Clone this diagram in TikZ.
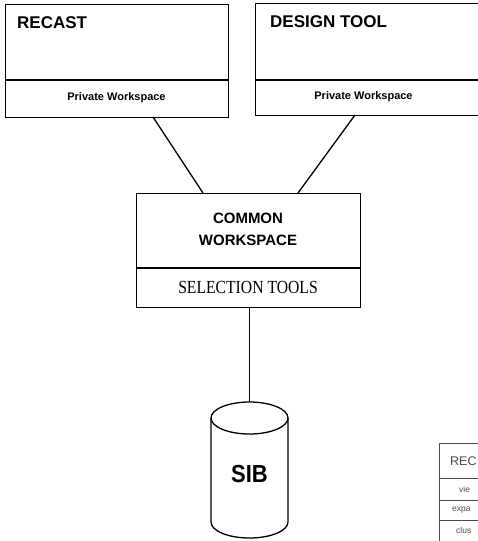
\documentclass[tikz,border=0pt]{standalone}
\usepackage{fontspec}
\newfontfamily\hv{Liberation Sans}
\newfontfamily\tms{Liberation Serif}
\usetikzlibrary{calc}
\definecolor{tablegray}{gray}{0.3}
\tikzset{
  ln/.style={line width=1.3pt, black},
  boxframe/.style={draw, line width=1.3pt, rectangle, inner sep=0pt, anchor=north west},
  titletxt/.style={font=\hv\bfseries\fontsize{17}{18}\selectfont, anchor=west, inner sep=0pt},
  privtxt/.style={font=\hv\bfseries\fontsize{11}{13}\selectfont, inner sep=0pt},
  tbl/.style={draw=tablegray, line width=1pt},
  tbltxt/.style={text=tablegray, font=\hv\fontsize{8.5}{10}\selectfont, anchor=west, inner sep=0pt}
}
\begin{document}
\begin{tikzpicture}[x=1pt,y=-1pt]
\useasboundingbox (0,0) rectangle (478,541);
\fill[white] (0,0) rectangle (478,541);

% RECAST box
\node[boxframe, minimum width=223pt, minimum height=113pt] (recast) at (5,4) {};
\draw[ln] (5,80) -- (228,80);
\node[titletxt] (recastt) at (17,23) {RECAST};
\node[privtxt] (recastp) at (116.5,98) {Private Workspace};

% DESIGN TOOL box (cut off at right edge)
\node[boxframe, minimum width=230pt, minimum height=112pt] (design) at (255,3) {};
\draw[ln] (255,80) -- (485,80);
\node[titletxt] (designt) at (270,22) {DESIGN TOOL};
\node[privtxt] (designp) at (363.5,97) {Private Workspace};

% COMMON WORKSPACE box
\node[boxframe, minimum width=224pt, minimum height=114pt] (common) at (136,193) {};
\draw[ln] (136,268) -- (360,268);
\node[font=\hv\bfseries\fontsize{15}{22}\selectfont, align=center, inner sep=0pt] (commont) at (248,229) {COMMON\\WORKSPACE};
\node[font=\tms\fontsize{16.5}{18}\selectfont, inner sep=0pt] (selt) at (248,287) {\scalebox{0.95}[1.12]{SELECTION TOOLS}};

% SIB cylinder
\draw[ln] (211,418) -- (211,522) arc[start angle=180, end angle=360, x radius=38.5pt, y radius=16pt] -- (288,418);
\draw[ln] (249.5,418) ellipse[x radius=38.5pt, y radius=16pt];
\node[font=\hv\bfseries\fontsize{22}{24}\selectfont, inner sep=0pt] (sib) at (249.5,474) {\scalebox{1}[1.12]{SIB}};
\coordinate (sibtop) at (249.5,402);

% connectors
\coordinate (r1) at (153,117);
\coordinate (c1) at (203,193);
\coordinate (d1) at (355,115);
\coordinate (c2) at (298,193);
\coordinate (c3) at (249.5,307);
\draw[ln] (r1) -- (c1);
\draw[ln] (d1) -- (c2);
\draw[ln] (c3) -- (sibtop);

% partial table at bottom right (cut off by the picture's edge)
\node[tbl, rectangle, anchor=north west, minimum width=60pt, minimum height=110pt, inner sep=0pt] (tab) at (439,443) {};
\draw[tbl] (439,478) -- (499,478);
\draw[tbl] (439,500) -- (499,500);
\draw[tbl] (439,520) -- (499,520);
\node[text=tablegray, font=\hv\fontsize{12.5}{14}\selectfont, anchor=west, inner sep=0pt] (tabh) at (450,461) {REC};
\node[tbltxt] (tv) at (459,489) {vie};
\node[tbltxt] (te) at (452,510) {expa};
\node[tbltxt] (tc) at (456,530) {clus};
\end{tikzpicture}
\end{document}
